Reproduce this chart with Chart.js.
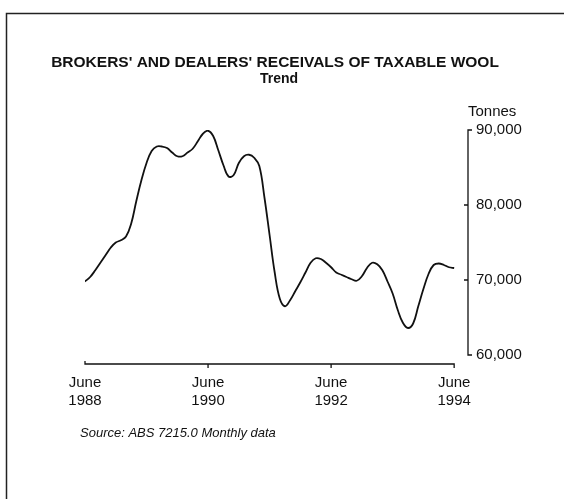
<!DOCTYPE html>
<html>
<head>
<meta charset="utf-8">
<script src="https://cdn.jsdelivr.net/npm/chart.js@4.4.1/dist/chart.umd.min.js"></script>
<style>
  html, body { margin: 0; padding: 0; background: #fff; }
  #wrap { width: 564px; height: 499px; position: relative; }
</style>
</head>
<body>
<div id="wrap"><canvas id="chart" width="564" height="499"></canvas></div>
<script>
// monthly trend, June 1988 (month 0) to June 1994 (month 72), tonnes
const tonnes = [
  69800, 70400, 71300, 72300, 73300, 74300, 75000, 75300, 75800, 77500, 80500, 83300,
  85600, 87200, 87800, 87800, 87600, 87000, 86500, 86500, 87000, 87500, 88500, 89500,
  89900, 89200, 87300, 85300, 83800, 84000, 85600, 86500, 86700, 86300, 85200, 81000,
  76000, 71000, 67500, 66500, 67300, 68500, 69700, 71000, 72300, 72900, 72800, 72300,
  71700, 71000, 70700, 70400, 70100, 69900, 70500, 71600, 72300, 72100, 71300, 69800,
  68200, 66000, 64300, 63600, 64200, 66500, 68800, 70800, 72000, 72200, 72000, 71700,
  71600
];
const xTicks = [0, 24, 48, 72];
const xTickLabels = [['June', '1988'], ['June', '1990'], ['June', '1992'], ['June', '1994']];
const yTicks = [60000, 70000, 80000, 90000];
const yTickLabels = ['60,000', '70,000', '80,000', '90,000'];

const title = "BROKERS' AND DEALERS' RECEIVALS OF TAXABLE WOOL";
const subtitle = 'Trend';
const unitLabel = 'Tonnes';
const sourceNote = 'Source: ABS 7215.0 Monthly data';

const FONT = '"Liberation Sans", Arial, Helvetica, sans-serif';
const INK = '#111';

// frame, axis lines and the free text around the plot
const decor = {
  id: 'decor',
  beforeDraw(chart) {
    const ctx = chart.ctx;
    ctx.save();
    ctx.fillStyle = '#fff';
    ctx.fillRect(0, 0, chart.width, chart.height);
    ctx.strokeStyle = '#222';
    ctx.lineWidth = 1.5;
    ctx.beginPath();
    ctx.moveTo(6.5, chart.height);
    ctx.lineTo(6.5, 13.5);
    ctx.lineTo(chart.width, 13.5);
    ctx.stroke();
    ctx.restore();
  },
  afterDraw(chart) {
    const ctx = chart.ctx;
    const x = chart.scales.x, y = chart.scales.y;
    const area = chart.chartArea;
    ctx.save();
    ctx.strokeStyle = INK;
    ctx.lineWidth = 1.3;

    // y axis with bracket ends
    const ax = area.right;
    const yTop = y.getPixelForValue(yTicks[yTicks.length - 1]);
    const yBot = y.getPixelForValue(yTicks[0]);
    ctx.beginPath();
    ctx.moveTo(ax + 4, yTop);
    ctx.lineTo(ax, yTop);
    ctx.lineTo(ax, yBot);
    ctx.lineTo(ax + 4, yBot);
    yTicks.slice(1, -1).forEach(v => {
      const py = y.getPixelForValue(v);
      ctx.moveTo(ax - 4, py);
      ctx.lineTo(ax, py);
    });
    ctx.stroke();

    // x axis
    const ay = area.bottom;
    const x0 = x.getPixelForValue(xTicks[0]);
    const x1 = x.getPixelForValue(xTicks[xTicks.length - 1]);
    ctx.beginPath();
    ctx.moveTo(x0, ay - 3);
    ctx.lineTo(x0, ay);
    ctx.lineTo(x1, ay);
    ctx.lineTo(x1, ay + 4);
    xTicks.slice(1, -1).forEach(v => {
      const px = x.getPixelForValue(v);
      ctx.moveTo(px, ay);
      ctx.lineTo(px, ay + 4);
    });
    ctx.stroke();

    // text
    ctx.fillStyle = INK;
    ctx.textBaseline = 'middle';
    ctx.textAlign = 'center';
    ctx.font = 'bold 15.5px ' + FONT;
    ctx.fillText(title, 275, 63);
    ctx.font = 'bold 14px ' + FONT;
    ctx.fillText(subtitle, 279, 79);
    ctx.textAlign = 'left';
    ctx.font = '15px ' + FONT;
    ctx.fillText(unitLabel, 468, 112);
    ctx.font = 'italic 13px ' + FONT;
    ctx.fillText(sourceNote, 80, 433);
    ctx.restore();
  }
};

new Chart(document.getElementById('chart'), {
  type: 'line',
  data: {
    datasets: [{
      data: tonnes.map((v, i) => ({ x: i, y: v })),
      borderColor: INK,
      borderWidth: 1.8,
      pointRadius: 0,
      tension: 0.4,
      fill: false
    }]
  },
  options: {
    responsive: false,
    animation: false,
    layout: { padding: { left: 85, top: 130, right: 0, bottom: 0 } },
    plugins: { legend: { display: false }, title: { display: false }, tooltip: { enabled: false } },
    scales: {
      x: {
        type: 'linear',
        min: 0,
        max: 74.7,
        afterBuildTicks: s => { s.ticks = xTicks.map(v => ({ value: v })); },
        afterFit: s => { s.height = 135; },
        grid: { display: false, drawTicks: false },
        border: { display: false },
        ticks: {
          autoSkip: false,
          maxRotation: 0,
          padding: 10,
          color: INK,
          font: { family: FONT, size: 15 },
          callback: (v, i) => xTickLabels[i]
        }
      },
      y: {
        position: 'right',
        min: 58800,
        max: 90000,
        afterBuildTicks: s => { s.ticks = yTicks.map(v => ({ value: v })); },
        afterFit: s => { s.width = 96; },
        grid: { display: false, drawTicks: false },
        border: { display: false },
        ticks: {
          padding: 8,
          color: INK,
          font: { family: FONT, size: 15 },
          callback: (v, i) => yTickLabels[i]
        }
      }
    }
  },
  plugins: [decor]
});
</script>
</body>
</html>
